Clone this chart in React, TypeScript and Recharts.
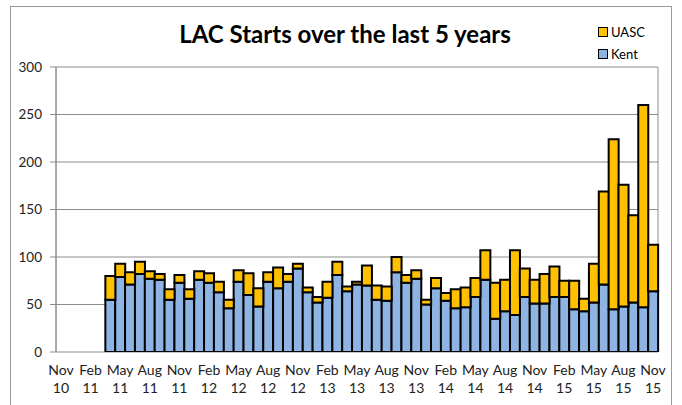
import React from "react";
import { BarChart, Bar, XAxis, YAxis, CartesianGrid } from "recharts";

// Monthly LAC starts, Nov 2010 – Nov 2015 (no data before Apr 2011)
const months = [
  "Nov 10", "Dec 10", "Jan 11", "Feb 11", "Mar 11", "Apr 11", "May 11", "Jun 11", "Jul 11", "Aug 11",
  "Sep 11", "Oct 11", "Nov 11", "Dec 11", "Jan 12", "Feb 12", "Mar 12", "Apr 12", "May 12", "Jun 12",
  "Jul 12", "Aug 12", "Sep 12", "Oct 12", "Nov 12", "Dec 12", "Jan 13", "Feb 13", "Mar 13", "Apr 13",
  "May 13", "Jun 13", "Jul 13", "Aug 13", "Sep 13", "Oct 13", "Nov 13", "Dec 13", "Jan 14", "Feb 14",
  "Mar 14", "Apr 14", "May 14", "Jun 14", "Jul 14", "Aug 14", "Sep 14", "Oct 14", "Nov 14", "Dec 14",
  "Jan 15", "Feb 15", "Mar 15", "Apr 15", "May 15", "Jun 15", "Jul 15", "Aug 15", "Sep 15", "Oct 15",
  "Nov 15",
];

const kent = [
  null, null, null, null, null, 55, 79, 71, 82, 77,
  76, 55, 73, 56, 76, 73, 63, 46, 74, 60,
  48, 74, 67, 74, 88, 63, 52, 57, 81, 64,
  71, 70, 55, 54, 84, 73, 77, 50, 67, 54,
  46, 47, 58, 76, 35, 43, 39, 58, 51, 51,
  58, 58, 45, 43, 52, 71, 45, 48, 52, 47,
  64,
];

const uasc = [
  null, null, null, null, null, 25, 14, 13, 13, 8,
  6, 11, 8, 10, 9, 10, 11, 9, 12, 23,
  19, 10, 22, 8, 5, 5, 6, 17, 14, 5,
  3, 21, 15, 15, 16, 8, 9, 5, 11, 8,
  20, 21, 20, 31, 38, 33, 68, 30, 25, 31,
  32, 17, 30, 13, 41, 98, 179, 128, 92, 213,
  49,
];

const yTicks = [0, 50, 100, 150, 200, 250, 300];
// category boundaries where gridlines / tick marks sit (every 3 months)
const boundaryTicks = [0, 3, 6, 9, 12, 15, 18, 21, 24, 27, 30, 33, 36, 39, 42, 45, 48, 51, 54, 57, 60];

const legendItems = [
  { name: "UASC", color: "#FFC000" },
  { name: "Kent", color: "#8EB4E3" },
];

const FONT = "Lato, 'Open Sans', sans-serif";
const GRID = "#8c8c8c";

const data = months.map((m, i) => ({ month: m, kent: kent[i], uasc: uasc[i] }));

function MonthTick(props: any) {
  const { x, y, payload } = props;
  const [mon, yr] = String(payload.value).split(" ");
  return (
    <text x={x} y={y} textAnchor="middle" fontFamily={FONT} fontSize={14} fill="#222">
      <tspan x={x} dy={23}>{mon}</tspan>
      <tspan x={x} dy={18}>{yr}</tspan>
    </text>
  );
}

export default function App() {
  return (
    <div
      style={{
        position: "absolute",
        left: 0,
        top: 0,
        width: 682,
        height: 405,
        background: "#fff",
        overflow: "hidden",
        fontFamily: FONT,
      }}
    >
      {/* outer chart frame */}
      <div
        style={{
          position: "absolute",
          left: 10,
          top: 6,
          width: 662,
          height: 430,
          border: "1px solid #9a9a9a",
          boxSizing: "border-box",
        }}
      />

      <div
        style={{
          position: "absolute",
          left: 4,
          top: 22,
          width: 682,
          textAlign: "center",
          fontSize: 24,
          lineHeight: "24px",
          fontWeight: 700,
          color: "#000",
        }}
      >
        LAC Starts over the last 5 years
      </div>

      {/* legend */}
      <div style={{ position: "absolute", left: 598, top: 21 }}>
        {legendItems.map((it) => (
          <div
            key={it.name}
            style={{ display: "flex", alignItems: "center", height: 22, fontSize: 13, color: "#000" }}
          >
            <span
              style={{
                display: "inline-block",
                width: 8,
                height: 8,
                background: it.color,
                border: "1.5px solid #000",
                marginRight: 3,
              }}
            />
            {it.name}
          </div>
        ))}
      </div>

      <div style={{ position: "absolute", left: 0, top: 0 }}>
        <BarChart
          width={682}
          height={405}
          data={data}
          margin={{ top: 67, right: 24, bottom: 0, left: 0 }}
          barCategoryGap={0}
          barGap={0}
        >
          <CartesianGrid xAxisId="grid" stroke={GRID} strokeWidth={1} />

          <XAxis
            xAxisId="grid"
            type="number"
            domain={[0, 61]}
            ticks={boundaryTicks}
            tick={false}
            tickSize={6}
            height={0}
            stroke={GRID}
            allowDataOverflow
          />
          <XAxis
            xAxisId="cat"
            dataKey="month"
            interval={2}
            tick={<MonthTick />}
            tickLine={false}
            axisLine={false}
            tickSize={0}
            tickMargin={0}
            height={53}
          />

          <YAxis
            domain={[0, 300]}
            ticks={yTicks}
            width={56}
            tickSize={6}
            tickMargin={8}
            stroke={GRID}
            tick={{ fill: "#222", fontSize: 13.5, fontFamily: FONT }}
            allowDataOverflow
          />

          <Bar
            xAxisId="cat"
            dataKey="kent"
            stackId="a"
            fill="#8EB4E3"
            stroke="#000"
            strokeWidth={2}
            isAnimationActive={false}
          />
          <Bar
            xAxisId="cat"
            dataKey="uasc"
            stackId="a"
            fill="#FFC000"
            stroke="#000"
            strokeWidth={2}
            isAnimationActive={false}
          />
        </BarChart>
      </div>
    </div>
  );
}
